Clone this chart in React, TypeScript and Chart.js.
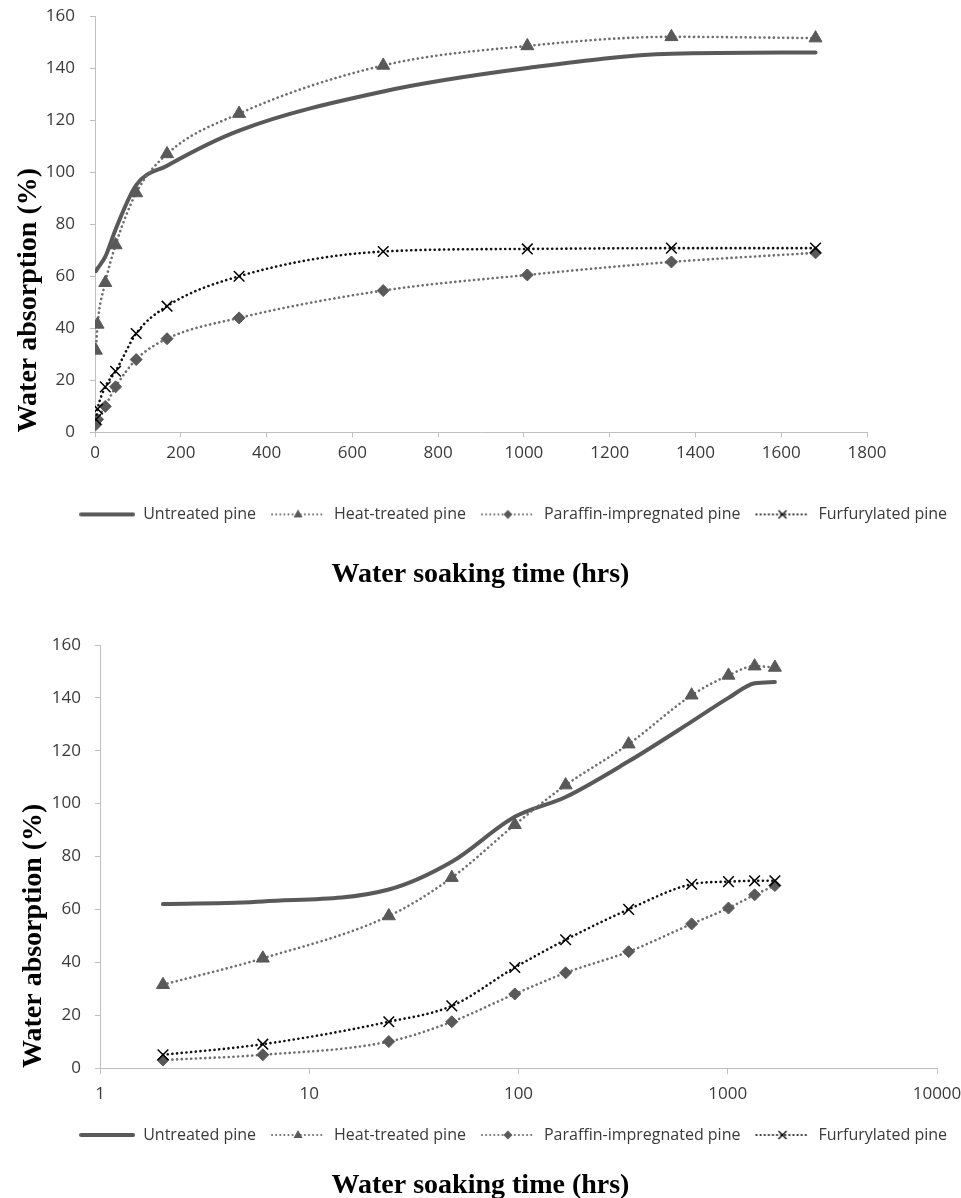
import React, { useEffect, useRef } from "react";
import { Chart, registerables } from "chart.js";

Chart.register(...registerables);

const hours = [2, 6, 24, 48, 96, 168, 336, 672, 1008, 1344, 1680];
const untreated = [62, 63, 67.5, 78, 95, 102.5, 116, 131, 140, 145.5, 146];
const heatTreated = [31.5, 41.5, 57.5, 72, 92, 107, 122.5, 141, 148.5, 152, 151.5];
const paraffin = [3, 5, 10, 17.5, 28, 36, 44, 54.5, 60.5, 65.5, 69];
const furfurylated = [5, 9, 17.5, 23.5, 38, 48.5, 60, 69.5, 70.5, 70.8, 70.8];

const seriesNames = [
  "Untreated pine",
  "Heat-treated pine",
  "Paraffin-impregnated pine",
  "Furfurylated pine",
];
const linearXTicks = [0, 200, 400, 600, 800, 1000, 1200, 1400, 1600, 1800];
const logXTicks = [1, 10, 100, 1000, 10000];
const yTicks = [0, 20, 40, 60, 80, 100, 120, 140, 160];

const xTitle = "Water soaking time (hrs)";
const yTitle = "Water absorption (%)";

const MARK = "#595959";
const DOT_GRAY = "#6e6e6e";
const DOT_BLACK = "#111111";
const AXIS = "#bfbfbf";
const TEXT = "#3a3a3a";

type Style = {
  solid: boolean;
  lineColor: string;
  marker: string | null;
  markerColor: string;
};
const styles: Style[] = [
  { solid: true, lineColor: MARK, marker: null, markerColor: MARK },
  { solid: false, lineColor: DOT_GRAY, marker: "triangle", markerColor: MARK },
  { solid: false, lineColor: DOT_GRAY, marker: "rectRot", markerColor: MARK },
  { solid: false, lineColor: DOT_BLACK, marker: "crossRot", markerColor: "#000" },
];

function legendImage(s: Style): HTMLCanvasElement {
  const c = document.createElement("canvas");
  c.width = 56;
  c.height = 16;
  const ctx = c.getContext("2d")!;
  const cy = 8;
  ctx.lineCap = "round";
  if (s.solid) {
    ctx.strokeStyle = s.lineColor;
    ctx.lineWidth = 4;
    ctx.beginPath();
    ctx.moveTo(2, cy);
    ctx.lineTo(54, cy);
    ctx.stroke();
  } else {
    ctx.strokeStyle = s.lineColor;
    ctx.lineWidth = 2;
    ctx.setLineDash([0.1, 4]);
    ctx.beginPath();
    ctx.moveTo(2, cy);
    ctx.lineTo(54, cy);
    ctx.stroke();
    ctx.setLineDash([]);
  }
  const cx = 28;
  ctx.fillStyle = s.markerColor;
  ctx.strokeStyle = s.markerColor;
  if (s.marker === "triangle") {
    ctx.beginPath();
    ctx.moveTo(cx, cy - 5);
    ctx.lineTo(cx + 4.5, cy + 3);
    ctx.lineTo(cx - 4.5, cy + 3);
    ctx.closePath();
    ctx.fill();
  } else if (s.marker === "rectRot") {
    ctx.beginPath();
    ctx.moveTo(cx, cy - 4.5);
    ctx.lineTo(cx + 4.5, cy);
    ctx.lineTo(cx, cy + 4.5);
    ctx.lineTo(cx - 4.5, cy);
    ctx.closePath();
    ctx.fill();
  } else if (s.marker === "crossRot") {
    ctx.lineWidth = 1.2;
    ctx.lineCap = "butt";
    ctx.beginPath();
    ctx.moveTo(cx - 4, cy - 4);
    ctx.lineTo(cx + 4, cy + 4);
    ctx.moveTo(cx + 4, cy - 4);
    ctx.lineTo(cx - 4, cy + 4);
    ctx.stroke();
  }
  return c;
}

function makeDatasets() {
  const values = [untreated, heatTreated, paraffin, furfurylated];
  return values.map((vals, i) => {
    const s = styles[i];
    return {
      label: seriesNames[i],
      data: hours.map((h, j) => ({ x: h, y: vals[j] })),
      borderColor: s.lineColor,
      borderWidth: s.solid ? 4 : 2.6,
      borderDash: s.solid ? [] : [0.1, 4.6],
      borderCapStyle: "round" as const,
      fill: false,
      cubicInterpolationMode: "monotone" as const,
      pointStyle: s.marker || "circle",
      pointRadius: s.marker === null ? 0 : s.marker === "triangle" ? 7.5 : s.marker === "rectRot" ? 6 : 7.5,
      pointBackgroundColor: s.markerColor,
      pointBorderColor: s.markerColor,
      pointBorderWidth: s.marker === "crossRot" ? 1.5 : 1,
      order: 3 - i,
    };
  });
}

type Cfg = {
  log: boolean;
  height: number;
  padTop: number;
  yWidth: number;
  rightWidth: number;
  xHeight: number;
  xPad: number;
  xTick: number;
  yPad: number;
  yTitlePad: number;
  titlePadTop: number;
  titlePadBottom: number;
};

function ChartBox({ cfg }: { cfg: Cfg }) {
  const ref = useRef<HTMLCanvasElement | null>(null);
  useEffect(() => {
    const canvas = ref.current!;
    const imgs = styles.map(legendImage);
    const tickFont = { family: "'Open Sans'", size: 17 };
    const chart = new Chart(canvas, {
      type: "line",
      data: { datasets: makeDatasets() as any },
      options: {
        responsive: false,
        animation: false,
        maintainAspectRatio: false,
        layout: { padding: { top: cfg.padTop, left: 0, right: 0, bottom: 0 } },
        plugins: {
          tooltip: { enabled: false },
          legend: {
            position: "bottom",
            align: "end",
            labels: {
              usePointStyle: true,
              pointStyleWidth: 56,
              boxHeight: 16,
              padding: 14,
              color: TEXT,
              font: { family: "'Open Sans'", size: 16 },
              generateLabels: () =>
                seriesNames.map((name, i) => ({
                  text: name,
                  pointStyle: imgs[i] as any,
                  fillStyle: styles[i].markerColor,
                  strokeStyle: styles[i].lineColor,
                  lineWidth: 1,
                  hidden: false,
                  datasetIndex: i,
                  fontColor: TEXT,
                })),
            },
          },
          title: {
            display: true,
            position: "bottom",
            text: xTitle,
            color: "#000",
            font: { family: "'Liberation Serif'", size: 28, weight: "bold" },
            padding: { top: cfg.titlePadTop, bottom: cfg.titlePadBottom },
          },
        },
        scales: {
          x: {
            type: cfg.log ? "logarithmic" : "linear",
            position: "bottom",
            min: cfg.log ? logXTicks[0] : linearXTicks[0],
            max: cfg.log ? logXTicks[logXTicks.length - 1] : linearXTicks[linearXTicks.length - 1],
            afterBuildTicks: (s: any) => {
              s.ticks = (cfg.log ? logXTicks : linearXTicks).map((v) => ({ value: v }));
            },
            afterFit: (s: any) => {
              s.height = cfg.xHeight;
              s.paddingLeft = 0;
              s.paddingRight = 0;
            },
            grid: {
              display: true,
              drawOnChartArea: false,
              drawTicks: true,
              tickLength: cfg.xTick,
              color: AXIS,
            },
            border: { display: true, color: AXIS, width: 1 },
            ticks: {
              autoSkip: false,
              maxRotation: 0,
              padding: cfg.xPad,
              color: TEXT,
              font: tickFont,
              callback: (v: any) => String(v),
            },
          } as any,
          y: {
            type: "linear",
            position: "left",
            min: yTicks[0],
            max: yTicks[yTicks.length - 1],
            afterBuildTicks: (s: any) => {
              s.ticks = yTicks.map((v) => ({ value: v }));
            },
            afterFit: (s: any) => {
              s.width = cfg.yWidth;
              s.paddingTop = 0;
              s.paddingBottom = 0;
            },
            grid: {
              display: true,
              drawOnChartArea: false,
              drawTicks: true,
              tickLength: 5,
              color: AXIS,
            },
            border: { display: true, color: AXIS, width: 1 },
            ticks: {
              padding: cfg.yPad,
              color: TEXT,
              font: tickFont,
              callback: (v: any) => String(v),
            },
            title: {
              display: true,
              text: yTitle,
              align: "start",
              color: "#000",
              font: { family: "'Liberation Serif'", size: 28, weight: "bold" },
              padding: { top: cfg.yTitlePad, bottom: 0 },
            },
          } as any,
          yRight: {
            type: "linear",
            position: "right",
            display: true,
            grid: { display: false, drawTicks: false },
            border: { display: false },
            ticks: { display: false },
            afterFit: (s: any) => {
              s.width = cfg.rightWidth;
              s.paddingTop = 0;
              s.paddingBottom = 0;
            },
          } as any,
        },
      },
    });
    return () => chart.destroy();
  }, [cfg]);
  return (
    <canvas
      ref={ref}
      width={961}
      height={cfg.height}
      style={{ display: "block", width: 961, height: cfg.height }}
    />
  );
}

const topCfg: Cfg = {
  log: false,
  height: 600,
  padTop: 16,
  yWidth: 95,
  rightWidth: 94,
  xHeight: 60,
  xPad: 6,
  xTick: 5,
  yPad: 15,
  yTitlePad: 12,
  titlePadTop: 26,
  titlePadBottom: 8,
};

const bottomCfg: Cfg = {
  log: true,
  height: 604,
  padTop: 45,
  yWidth: 100,
  rightWidth: 24,
  xHeight: 45,
  xPad: 10,
  xTick: 6,
  yPad: 14,
  yTitlePad: 17,
  titlePadTop: 16,
  titlePadBottom: 1.4,
};

export default function App() {
  return (
    <div
      style={{
        position: "absolute",
        left: 0,
        top: 0,
        width: 961,
        height: 1198,
        overflow: "hidden",
        background: "#fff",
      }}
    >
      <ChartBox cfg={topCfg} />
      <ChartBox cfg={bottomCfg} />
    </div>
  );
}
